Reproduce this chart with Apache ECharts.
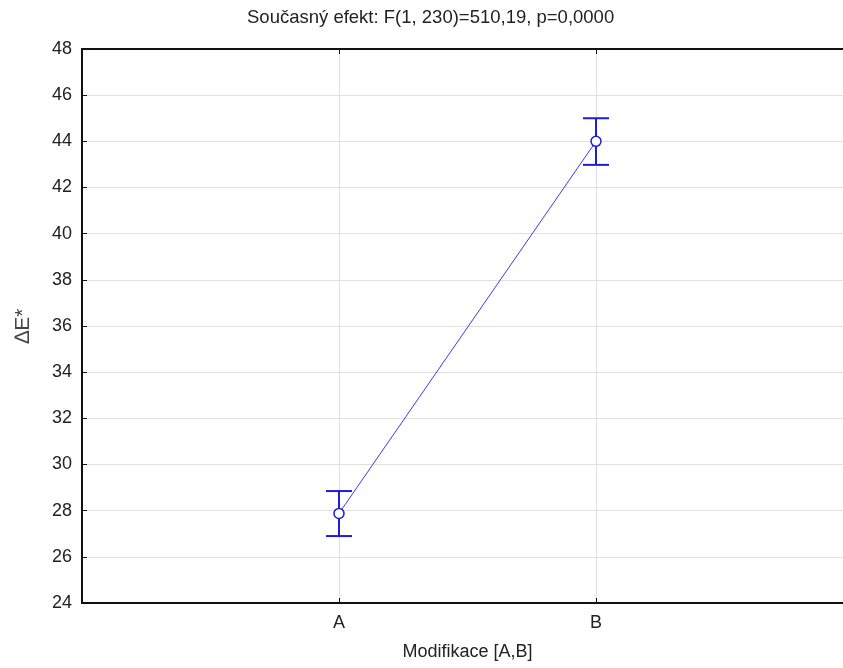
<!DOCTYPE html>
<html><head><meta charset="utf-8">
<script src="https://cdn.jsdelivr.net/npm/echarts@6/dist/echarts.min.js"></script>
<style>html,body{margin:0;padding:0;background:#fff;overflow:hidden}#c{width:843px;height:668px}</style>
</head><body><div id="c"></div>
<script>
const categories = ['A', 'B'];
const means = [27.88, 44.0];
const lower = [26.9, 42.98];
const upper = [28.85, 45.0];
const yTicks = [24, 26, 28, 30, 32, 34, 36, 38, 40, 42, 44, 46, 48];

const pts = categories.map((c, i) => [i + 1, means[i]]);
const err = categories.map((c, i) => [i + 1, lower[i], upper[i]]);
const font = '"Liberation Sans", Arial, sans-serif';

const chart = echarts.init(document.getElementById('c'), null, {renderer: 'canvas'});
chart.setOption({
  animation: false,
  backgroundColor: '#fff',
  title: {
    text: 'Současný efekt: F(1, 230)=510,19, p=0,0000',
    left: 242, top: 3,
    textStyle: {fontFamily: font, fontSize: 18.5, fontWeight: 'normal', color: '#222'}
  },
  grid: {left: 82, top: 49, width: 771, height: 554, containLabel: false, outerBoundsMode: 'none'},
  xAxis: [{
    type: 'value', min: 0, max: 3, interval: 1,
    name: 'Modifikace [A,B]', nameLocation: 'middle', nameGap: 40,
    nameTextStyle: {fontFamily: font, fontSize: 18, color: '#222', verticalAlign: 'top'},
    axisLine: {show: true, onZero: false, lineStyle: {color: '#111', width: 2}},
    axisTick: {show: true, inside: true, length: 5, lineStyle: {color: '#111'}},
    axisLabel: {fontFamily: font, fontSize: 18, color: '#222', margin: 11,
      formatter: function (v) { return categories[v - 1] || ''; }},
    splitLine: {show: true, lineStyle: {color: '#e0e0e0', width: 1}}
  }, {
    type: 'value', position: 'top', min: 0, max: 3, interval: 1,
    axisLine: {show: true, onZero: false, lineStyle: {color: '#111', width: 2}},
    axisTick: {show: true, inside: true, length: 5, lineStyle: {color: '#111'}},
    axisLabel: {show: false}, splitLine: {show: false}
  }],
  yAxis: {
    type: 'value', min: yTicks[0], max: yTicks[yTicks.length - 1], interval: 2,
    name: '∆E*', nameLocation: 'middle', nameGap: 48, nameRotate: 90,
    nameTextStyle: {fontFamily: font, fontSize: 21, color: '#444'},
    axisLine: {show: true, lineStyle: {color: '#111', width: 2}},
    axisTick: {show: true, inside: true, length: 5, lineStyle: {color: '#111'}},
    axisLabel: {fontFamily: font, fontSize: 18, color: '#222', margin: 10},
    splitLine: {show: true, lineStyle: {color: '#e0e0e0', width: 1}}
  },
  series: [{
    type: 'line', data: pts, xAxisIndex: 0,
    symbol: 'circle', symbolSize: 10,
    lineStyle: {color: '#3a3aff', width: 1},
    itemStyle: {color: '#fff', borderColor: '#1e1ed8', borderWidth: 1.5},
    z: 3
  }, {
    type: 'custom', data: err, xAxisIndex: 0, z: 2,
    renderItem: function (params, api) {
      const x = api.value(0);
      const lo = api.coord([x, api.value(1)]);
      const hi = api.coord([x, api.value(2)]);
      const hw = 13;
      const st = {stroke: '#1e1ed8', lineWidth: 2};
      return {type: 'group', children: [
        {type: 'line', shape: {x1: lo[0], y1: lo[1], x2: hi[0], y2: hi[1]}, style: st},
        {type: 'line', shape: {x1: lo[0] - hw, y1: lo[1], x2: lo[0] + hw, y2: lo[1]}, style: st},
        {type: 'line', shape: {x1: hi[0] - hw, y1: hi[1], x2: hi[0] + hw, y2: hi[1]}, style: st}
      ]};
    }
  }]
});
</script></body></html>
